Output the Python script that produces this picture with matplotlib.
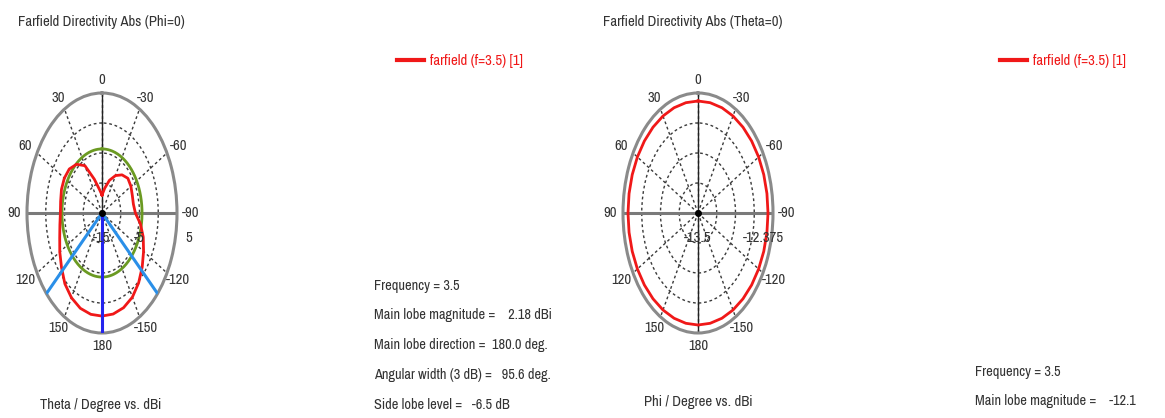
import numpy as np
import matplotlib.pyplot as plt
from matplotlib.transforms import ScaledTranslation
from matplotlib.lines import Line2D

# Theta cut (Phi=0): angle in degrees (positive = left side), directivity in dBi
theta_deg = [0, 10, 20, 30, 40, 50, 60, 70, 80, 90, 100, 110, 120, 130, 140, 150, 160, 170, 180,
             190, 200, 210, 220, 230, 240, 250, 260, 270, 280, 290, 300, 310, 320, 330, 340, 350, 360]
theta_dir = [-12.0, -11.0, -9.0, -5.9, -4.4, -3.6, -3.4, -3.5, -3.8, -3.9, -3.6, -3.0, -2.0, -0.9, 0.4, 1.3, 1.9, 2.15, 2.18,
             2.1, 1.8, 1.2, 0.2, -1.0, -2.2, -3.3, -4.6, -6.1, -6.5, -6.4, -6.1, -6.0, -6.7, -7.8, -9.2, -10.8, -12.0]

# Phi cut (Theta=0)
phi_deg = [0, 10, 20, 30, 40, 50, 60, 70, 80, 90, 100, 110, 120, 130, 140, 150, 160, 170, 180,
           190, 200, 210, 220, 230, 240, 250, 260, 270, 280, 290, 300, 310, 320, 330, 340, 350, 360]
phi_dir = [-12.1, -12.1, -12.1, -12.1, -12.1, -12.1, -12.1, -12.1, -12.1, -12.1, -12.1, -12.1, -12.1,
           -12.1, -12.1, -12.1, -12.1, -12.1, -12.1, -12.1, -12.1, -12.1, -12.1, -12.1, -12.1, -12.1,
           -12.1, -12.1, -12.1, -12.1, -12.1, -12.1, -12.1, -12.1, -12.1, -12.1, -12.1]

main_lobe_mag = 2.18
main_lobe_dir = 180.0
angular_width = 95.6
side_lobe_level = -6.5

angle_ticks = [0, 30, 60, 90, 120, 150, 180, 210, 240, 270, 300, 330]
angle_labels = ['0', '30', '60', '90', '120', '150', '180', '-150', '-120', '-90', '-60', '-30']

left_rlim = (-15, 5)
left_rings = [-10, -5, 0]
left_rlabels = ['-15', '-5', '5']
right_rlim = (-13.5, -12.0)
right_rings = [-13.125, -12.75, -12.375]
right_rlabels = ['-13.5', '-12.375']

plt.rcParams['font.family'] = ['Archivo Narrow', 'DejaVu Sans']
txt_col = '#333333'
grid_col = '#3a3a3a'
fs = 10.6

fig = plt.figure(figsize=(11.65, 4.18), dpi=100)


def setup_polar(rect, rlim, rings):
    ax = fig.add_axes(rect, projection='polar')
    ax.set_theta_zero_location('N')
    ax.set_theta_direction(1)
    ax.set_ylim(*rlim)
    ax.set_aspect('auto')
    ax.set_thetagrids(angle_ticks, angle_labels, fontsize=fs, color=txt_col)
    ax.set_rgrids(rings, labels=['' for _ in rings])
    ax.tick_params(axis='x', pad=-1)
    ax.grid(True, color=grid_col, linestyle=(0, (2, 2)), linewidth=1.0)
    ax.spines['polar'].set_color('#8a8a8a')
    ax.spines['polar'].set_linewidth(2.2)
    # solid axis crosses
    for a in [0, 180]:
        ax.plot(np.deg2rad([a, a]), rlim, color='#222222', lw=1.0, zorder=2)
    for a in [90, 270]:
        ax.plot(np.deg2rad([a, a]), rlim, color='#7a7a7a', lw=2.2, zorder=2)
    ax.plot(0, rlim[0], 'o', color='black', ms=4, zorder=6)
    return ax


def rlabels(ax, vals, labels, dx_last=0):
    for i, (v, lab) in enumerate(zip(vals, labels)):
        dx = dx_last if i == len(vals) - 1 else 0
        tr = ax.transData + ScaledTranslation(dx / 100, -25 / 100, fig.dpi_scale_trans)
        ax.text(np.deg2rad(-90), v, lab, transform=tr, ha='center', va='center',
                fontsize=fs, color=txt_col, zorder=7)


# ---------------- left: Phi = 0 ----------------
ax1 = setup_polar([102 / 1165 - 75 / 1165, (418 - 213 - 120) / 418, 150 / 1165, 240 / 418],
                  left_rlim, left_rings)
red1, = ax1.plot(np.deg2rad(theta_deg), theta_dir, color='#f01818', lw=2.0, zorder=4)
sll_abs = main_lobe_mag + side_lobe_level
circ = np.linspace(0, 2 * np.pi, 361)
ax1.plot(circ, np.full_like(circ, sll_abs), color='#6b9a22', lw=2.0, zorder=3)
edge1 = main_lobe_dir - angular_width / 2
edge2 = main_lobe_dir + angular_width / 2
for e in [edge1, edge2]:
    ax1.plot(np.deg2rad([e, e]), left_rlim, color='#2a8fe8', lw=2.2, zorder=5)
ax1.plot(np.deg2rad([main_lobe_dir, main_lobe_dir]), left_rlim, color='#2424ee', lw=2.2, zorder=5)
rlabels(ax1, [-15, -5, 5], left_rlabels, dx_last=12)

# ---------------- right: Theta = 0 ----------------
ax2 = setup_polar([698 / 1165 - 75 / 1165, (418 - 213 - 120) / 418, 150 / 1165, 240 / 418],
                  right_rlim, right_rings)
red2, = ax2.plot(np.deg2rad(phi_deg), phi_dir, color='#f01818', lw=2.0, zorder=4)
rlabels(ax2, [-13.5, -12.375], right_rlabels, dx_last=9)

# ---------------- titles, legends, info text ----------------
fig.text(18 / 1165, 1 - 22 / 418, 'Farfield Directivity Abs (Phi=0)', fontsize=fs, color=txt_col,
         ha='left', va='center')
fig.text(603 / 1165, 1 - 22 / 418, 'Farfield Directivity Abs (Theta=0)', fontsize=fs, color=txt_col,
         ha='left', va='center')
fig.text(101 / 1165, 1 - 405 / 418, 'Theta / Degree vs. dBi', fontsize=fs, color=txt_col,
         ha='center', va='center')
fig.text(698 / 1165, 1 - 402 / 418, 'Phi / Degree vs. dBi', fontsize=fs, color=txt_col,
         ha='center', va='center')

for x in [397, 1000]:
    fig.legend(handles=[Line2D([], [], color='#f01818', lw=3)], labels=['farfield (f=3.5) [1]'],
               loc='center left', bbox_to_anchor=(x / 1165, 1 - 61 / 418), frameon=False,
               handlelength=1.8, handletextpad=0.45, borderpad=0, borderaxespad=0,
               labelcolor='#f01818', fontsize=fs)

info_left = ['Frequency = 3.5',
             'Main lobe magnitude =    %.2f dBi' % main_lobe_mag,
             'Main lobe direction =  %.1f deg.' % main_lobe_dir,
             'Angular width (3 dB) =   %.1f deg.' % angular_width,
             'Side lobe level =   %.1f dB' % side_lobe_level]
info_left_y = [286, 315, 345, 375, 405]
for s, y in zip(info_left, info_left_y):
    fig.text(374 / 1165, 1 - y / 418, s, fontsize=10.3, color=txt_col, ha='left', va='center')

info_right = ['Frequency = 3.5', 'Main lobe magnitude =    -12.1']
info_right_y = [372, 401]
for s, y in zip(info_right, info_right_y):
    fig.text(975 / 1165, 1 - y / 418, s, fontsize=10.3, color=txt_col, ha='left', va='center')

fig.savefig('out.png', dpi=100, facecolor='white')
